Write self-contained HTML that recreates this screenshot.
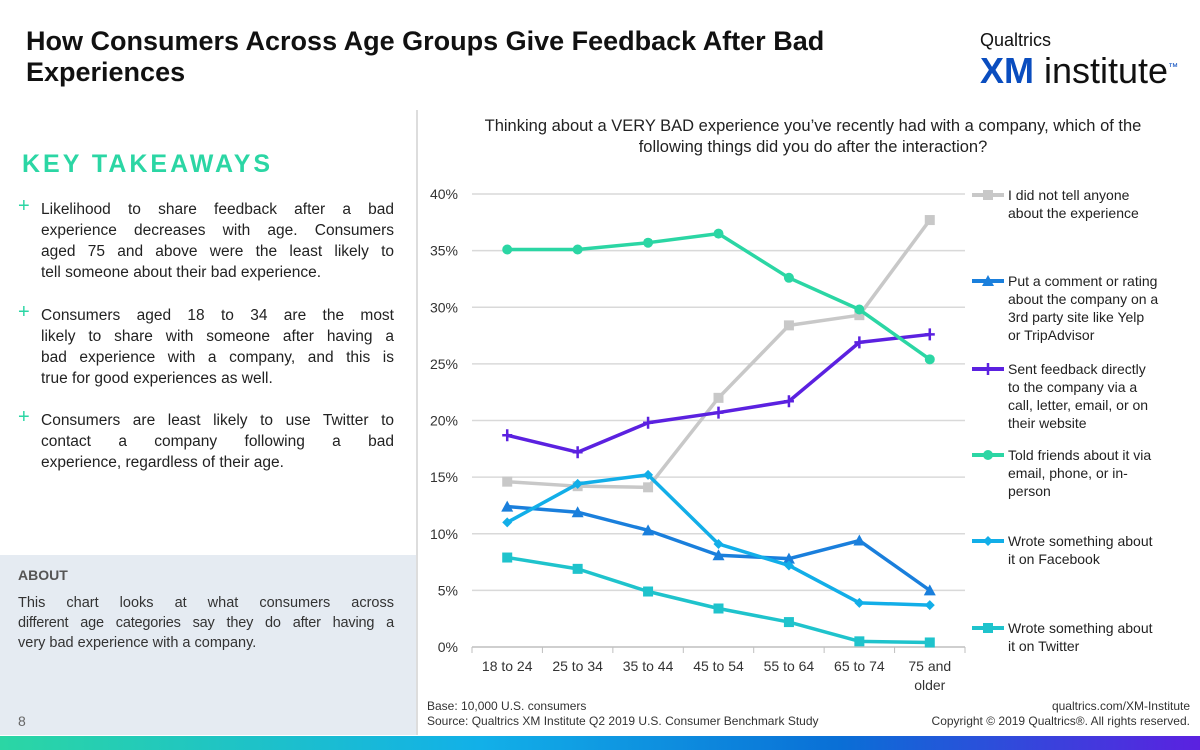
<!DOCTYPE html>
<html><head><meta charset="utf-8"><style>
body{margin:0;width:1200px;height:750px;position:relative;overflow:hidden;background:#fff;font-family:"Liberation Sans",sans-serif;color:#222}
.abs{position:absolute}
h1{position:absolute;left:26px;top:26px;margin:0;font-size:27px;line-height:31px;font-weight:bold;width:920px;color:#111}
.kt{left:22px;top:150px;font-size:25px;font-weight:bold;letter-spacing:3px;color:#2bd6a4}
.bul{left:18px;width:376px;font-size:15.5px;line-height:21px;color:#222}
.bul span.p{position:absolute;left:0;top:-3px;color:#2bd6a4;font-size:20px}
.bul>div{padding-left:23px}
.j{text-align:justify;text-align-last:justify;white-space:nowrap}
.l{white-space:nowrap}
</style></head><body>
<h1>How Consumers Across Age Groups Give Feedback After Bad Experiences</h1>
<div class="abs" style="left:980px;top:30px">
<div style="font-size:18px;color:#111">Qualtrics</div>
<div style="font-size:36px;line-height:34px;color:#0a4dbf"><b>XM</b><span style="color:#111"> institute</span><sup style="font-size:10px">™</sup></div></div>
<div class="abs" style="left:416px;top:110px;width:2px;height:625px;background:#ddd"></div>
<div class="abs kt">KEY TAKEAWAYS</div>
<div class="abs bul" style="top:199px"><span class="p">+</span><div><div class="j">Likelihood to share feedback after a bad</div><div class="j">experience decreases with age. Consumers</div><div class="j">aged 75 and above were the least likely to</div><div class="l">tell someone about their bad experience.</div></div></div>
<div class="abs bul" style="top:305px"><span class="p">+</span><div><div class="j">Consumers aged 18 to 34 are the most</div><div class="j">likely to share with someone after having a</div><div class="j">bad experience with a company, and this is</div><div class="l">true for good experiences as well.</div></div></div>
<div class="abs bul" style="top:410px"><span class="p">+</span><div><div class="j">Consumers are least likely to use Twitter to</div><div class="j">contact a company following a bad</div><div class="l">experience, regardless of their age.</div></div></div>
<div class="abs" style="left:0;top:555px;width:416px;height:180px;background:#e5ebf2">
<div style="position:absolute;left:18px;top:12px;font-size:14px;font-weight:bold;color:#555">ABOUT</div>
<div style="position:absolute;left:18px;top:38px;width:376px;font-size:14.5px;line-height:20px;color:#333"><div class="j">This chart looks at what consumers across</div><div class="j" style="letter-spacing:-0.2px">different age categories say they do after having a</div><div class="l">very bad experience with a  company.</div></div>
<div style="position:absolute;left:18px;top:158px;font-size:14px;color:#666">8</div></div>
<div class="abs" style="left:0;top:736px;width:1200px;height:14px;background:linear-gradient(90deg,#2bd6a4,#12b0e8 40%,#0a6fd6 70%,#5b21e0)"></div>
<div class="abs" style="left:428px;top:116px;width:770px;text-align:center;font-size:16.5px;line-height:21px;color:#222">Thinking about a VERY BAD experience you’ve recently had with a company, which of the<br>following things did you do after the interaction?</div>
<div class="abs" style="left:427px;top:699px;font-size:12px;line-height:15px;color:#333">Base: 10,000 U.S. consumers<br>Source: Qualtrics XM Institute Q2 2019 U.S. Consumer Benchmark Study</div>
<div class="abs" style="right:10px;top:699px;font-size:12px;line-height:15px;color:#333;text-align:right">qualtrics.com/XM-Institute<br>Copyright © 2019 Qualtrics®. All rights reserved.</div>
<svg class="abs" style="left:0;top:0" width="1200" height="750" id="chart"></svg>
<script>
const categories=["18 to 24","25 to 34","35 to 44","45 to 54","55 to 64","65 to 74","75 and|older"];
const yTicks=[0,5,10,15,20,25,30,35,40];
const sNames=["I did not tell anyone|about the experience","Put a comment or rating|about the company on a|3rd party site like Yelp|or TripAdvisor","Sent feedback directly|to the company via a|call, letter, email, or on|their website","Told friends about it via|email, phone, or in-|person","Wrote something about|it on Facebook","Wrote something about|it on Twitter"];
const noTell=[14.6,14.2,14.1,22,28.4,29.3,37.7];
const comment=[12.4,11.9,10.3,8.1,7.8,9.4,5.0];
const direct=[18.7,17.2,19.8,20.7,21.7,26.9,27.6];
const friends=[35.1,35.1,35.7,36.5,32.6,29.8,25.4];
const facebook=[11.0,14.4,15.2,9.1,7.2,3.9,3.7];
const twitter=[7.9,6.9,4.9,3.4,2.2,0.5,0.4];
const series=[noTell,comment,direct,friends,facebook,twitter];
const colors=["#c8c8c8","#1a7fdc","#5b21e0","#2bd6a4","#12aee8","#1fc3cc"];
const markers=["sq","tri","plus","circ","dia","sq"];
const legY=[195,281,369,455,541,628];
const svg=document.getElementById('chart');const NS="http://www.w3.org/2000/svg";
const x0=472,x1=965,yB=647,yT=194,yMax=40;
const xs=i=>x0+(x1-x0)/categories.length*(i+0.5);
const ys=v=>yB-(v/yMax)*(yB-yT);
function mk(t,a,p){const e=document.createElementNS(NS,t);for(const k in a)e.setAttribute(k,a[k]);(p||svg).appendChild(e);return e;}
yTicks.forEach(t=>{
const g=mk('line',{x1:x0,x2:x1,y1:ys(t),y2:ys(t),stroke:t?'#d9d9d9':'#bfbfbf','stroke-width':1.5});


const l=mk('text',{x:458,y:ys(t)+5,'text-anchor':'end','font-size':14,fill:'#333','font-family':'Liberation Sans'});l.textContent=t+'%';

});
for(let i=0;i<=categories.length;i++){const x=x0+(x1-x0)/categories.length*i;mk('line',{x1:x,x2:x,y1:yB,y2:yB+6,stroke:'#bfbfbf'});}
categories.forEach((c,i)=>{c.split('|').forEach((p,j)=>{const t=mk('text',{x:xs(i),y:yB+24+j*19,'text-anchor':'middle','font-size':14,fill:'#333','font-family':'Liberation Sans'});t.textContent=p;

});});
function marker(m,x,y,c){
if(m=='sq')return mk('rect',{x:x-5,y:y-5,width:10,height:10,fill:c});
if(m=='circ')return mk('circle',{cx:x,cy:y,r:5,fill:c});
if(m=='tri')return mk('path',{d:`M${x-6} ${y+5}L${x} ${y-6}L${x+6} ${y+5}Z`,fill:c});
if(m=='dia')return mk('path',{d:`M${x} ${y-5}L${x+5} ${y}L${x} ${y+5}L${x-5} ${y}Z`,fill:c});
return mk('path',{d:`M${x-5} ${y}H${x+5}M${x} ${y-6}V${y+6}`,stroke:c,'stroke-width':2.5});}
series.forEach((s,k)=>{
const p=mk('polyline',{points:s.map((v,i)=>xs(i)+','+ys(v)).join(' '),fill:'none',stroke:colors[k],'stroke-width':3.5,'stroke-linejoin':'round'});


s.forEach((v,i)=>{const m=marker(markers[k],xs(i),ys(v),colors[k]);

});
const ly=legY[k];
const ll=mk('line',{x1:972,x2:1004,y1:ly,y2:ly,stroke:colors[k],'stroke-width':4});


marker(markers[k],988,ly,colors[k]);
sNames[k].split('|').forEach((p,j)=>{const t=mk('text',{x:1008,y:ly+5+j*18,'font-size':14,fill:'#222','font-family':'Liberation Sans'});t.textContent=p;

});
});
</script>
</body></html>
